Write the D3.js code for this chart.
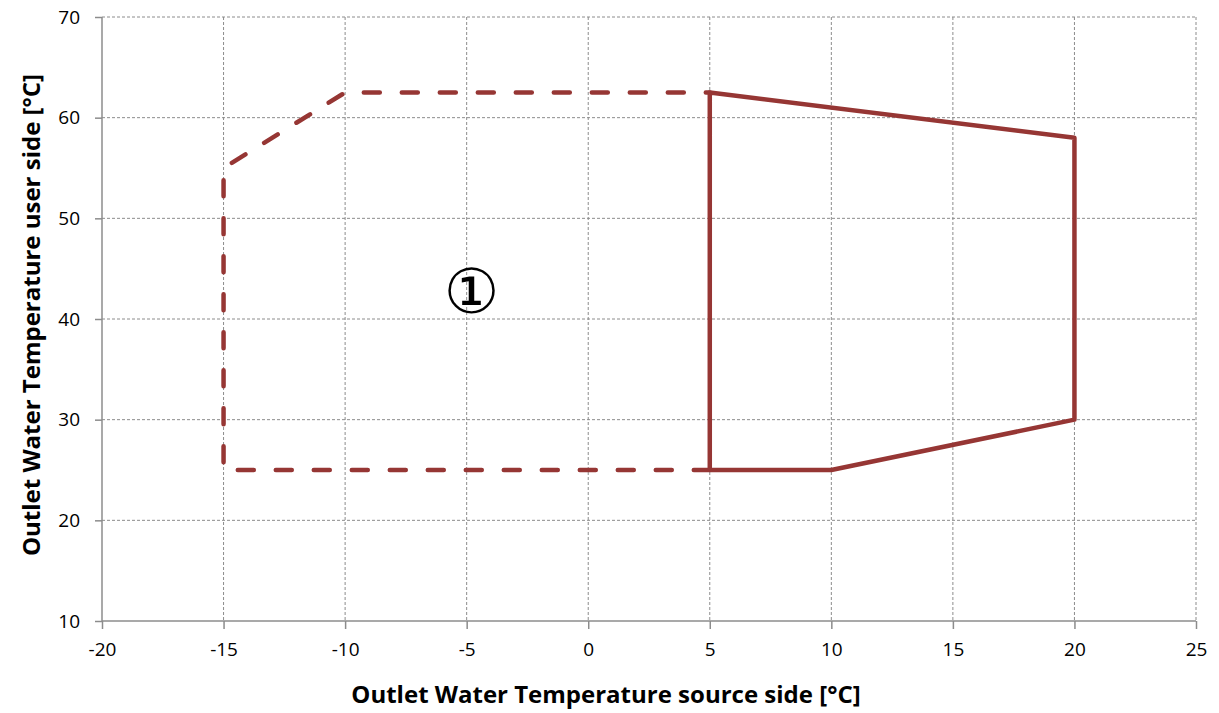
<!DOCTYPE html>
<html>
<head>
<meta charset="utf-8">
<script src="https://cdn.jsdelivr.net/npm/d3@7"></script>
<style>
body { margin: 0; background: #fff; }
</style>
</head>
<body>
<script>
// envelope data
var dashedX = [ 5, -15, -15, -10, 5 ];
var dashedY = [ 25, 25, 55, 62.5, 62.5 ];
var solidX = [ 5, 5, 20, 20, 10, 5 ];
var solidY = [ 25, 62.5, 58, 30, 25, 25 ];
var xTicks = [ -20, -15, -10, -5, 0, 5, 10, 15, 20, 25 ];
var yTicks = [ 10, 20, 30, 40, 50, 60, 70 ];
var zoneLabel = { x: -4.8, y: 42.7, text: "\u2460" };

//Width and height
var w = 1219;
var h = 713;
var padLeft = 102, padRight = 1196, padTop = 17, padBottom = 621;

var svg = d3.select("body")
            .append("svg")
            .attr("width", w)
            .attr("height", h);

var x = d3.scaleLinear().domain([-20, 25]).range([padLeft, padRight]);
var y = d3.scaleLinear().domain([10, 70]).range([padBottom, padTop]);

var font = "'Open Sans', 'Liberation Sans', sans-serif";

//grid lines
svg.append("g").selectAll("line")
   .data(xTicks.slice(1))
   .enter()
   .append("line")
   .attr("x1", function(d) { return x(d); })
   .attr("x2", function(d) { return x(d); })
   .attr("y1", y(70))
   .attr("y2", y(10))
   .attr("stroke", "#8c8c8c")
   .attr("stroke-width", 1)
   .attr("stroke-dasharray", "3,2");

svg.append("g").selectAll("line")
   .data(yTicks.slice(1))
   .enter()
   .append("line")
   .attr("x1", x(-20))
   .attr("x2", x(25))
   .attr("y1", function(d) { return y(d); })
   .attr("y2", function(d) { return y(d); })
   .attr("stroke", "#8c8c8c")
   .attr("stroke-width", 1)
   .attr("stroke-dasharray", "3,2");

//axes
var plain = function(d) { return String(d); };
var xAxis = d3.axisBottom(x).tickValues(xTicks).tickFormat(plain).tickSize(8).tickPadding(14);
var yAxis = d3.axisLeft(y).tickValues(yTicks).tickFormat(plain).tickSize(7).tickPadding(15);

var gx = svg.append("g").attr("transform", "translate(0," + y(10) + ")").call(xAxis);
var gy = svg.append("g").attr("transform", "translate(" + x(-20) + ",0)").call(yAxis);

[gx, gy].forEach(function(g) {
    g.select(".domain").attr("stroke", "#8c8c8c").attr("stroke-width", 1.5);
    g.selectAll(".tick line").attr("stroke", "#8c8c8c").attr("stroke-width", 1.5);
    g.selectAll(".tick text")
     .attr("font-family", font)
     .attr("font-size", "19px")
     .attr("fill", "#000");
});
gy.select(".domain").attr("d", "M0," + y(10) + "V" + y(70));
gx.select(".domain").attr("d", "M" + x(-20) + ",0H" + x(25));

//envelope lines
var line = d3.line()
    .x(function(d) { return x(d[0]); })
    .y(function(d) { return y(d[1]); });

svg.append("path")
   .datum(d3.zip(dashedX, dashedY))
   .attr("d", line)
   .attr("fill", "none")
   .attr("stroke", "#963634")
   .attr("stroke-width", 4.5)
   .attr("stroke-linecap", "round")
   .attr("stroke-dasharray", "16,22");

svg.append("path")
   .datum(d3.zip(solidX, solidY))
   .attr("d", line)
   .attr("fill", "none")
   .attr("stroke", "#963634")
   .attr("stroke-width", 4.5)
   .attr("stroke-linejoin", "round");

//zone label
svg.append("text")
   .attr("x", x(zoneLabel.x))
   .attr("y", y(zoneLabel.y))
   .attr("text-anchor", "middle")
   .attr("dominant-baseline", "central")
   .attr("font-family", "'DejaVu Sans', sans-serif")
   .attr("font-size", "62px")
   .attr("fill", "#000")
   .text(zoneLabel.text);

//axis titles
svg.append("text")
   .attr("x", 606)
   .attr("y", 703)
   .attr("text-anchor", "middle")
   .attr("font-family", font)
   .attr("font-weight", "bold")
   .attr("font-size", "24px")
   .text("Outlet Water Temperature source side [°C]");

svg.append("text")
   .attr("transform", "translate(40,315) rotate(-90)")
   .attr("text-anchor", "middle")
   .attr("font-family", font)
   .attr("font-weight", "bold")
   .attr("font-size", "24px")
   .text("Outlet Water Temperature user side [°C]");
</script>
</body>
</html>
